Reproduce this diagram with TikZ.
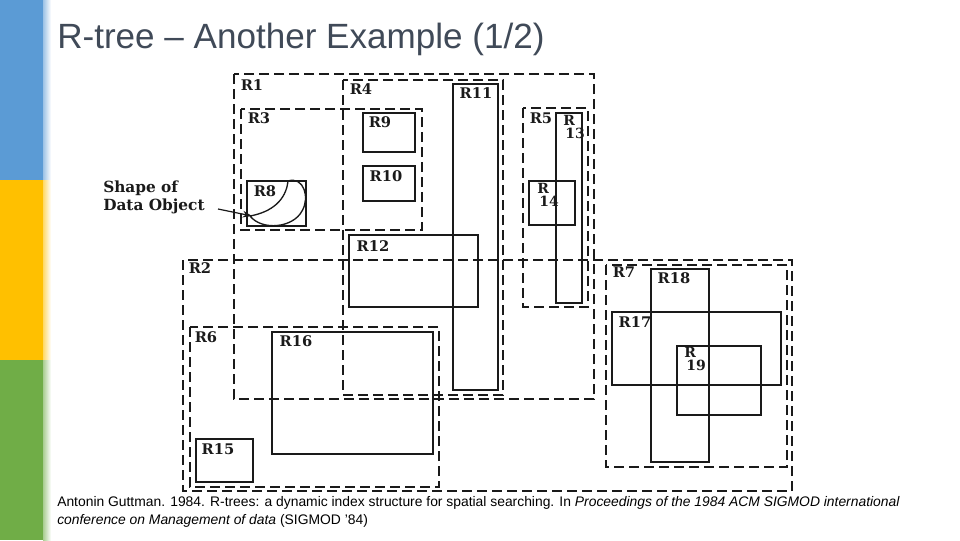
\documentclass[tikz,border=0pt]{standalone}
\usepackage{fontspec}
\setmainfont{Liberation Sans}
\newfontfamily\scanfont{DejaVu Serif}
\usetikzlibrary{arrows.meta}
\definecolor{barblue}{HTML}{5B9BD5}
\definecolor{baryellow}{HTML}{FFC000}
\definecolor{bargreen}{HTML}{70AD47}
\definecolor{titlegray}{HTML}{404A58}
\definecolor{ink}{HTML}{1A1A1A}
\tikzset{
  dbox/.style={draw=ink, line width=1.1pt, dash pattern=on 7.5pt off 3.75pt},
  sbox/.style={draw=ink, line width=0.85pt},
  lbl/.style={inner sep=0pt, font=\scanfont\bfseries\fontsize{11pt}{11pt}\selectfont, text=ink},
  stack/.style={inner sep=0pt, anchor=north west, align=left, font=\scanfont\bfseries\fontsize{10.5pt}{9.8pt}\selectfont, text=ink},
  sublbl/.style={inner sep=0pt, font=\scanfont\bfseries\fontsize{11.5pt}{13.5pt}\selectfont, text=ink, align=left},
}
\begin{document}
\begin{tikzpicture}[x=0.75pt,y=-0.75pt]
\useasboundingbox (0,0) rectangle (960,540);
\fill[white] (0,0) rectangle (960,540);
% sidebar
\fill[barblue] (0,0) rectangle (43,180);
\fill[baryellow] (0,180) rectangle (43,360);
\fill[bargreen] (0,360) rectangle (43,540);
\shade[left color=barblue!60, right color=white] (43,0) rectangle (51,180);
\shade[left color=baryellow!60, right color=white] (43,180) rectangle (51,360);
\shade[left color=bargreen!60, right color=white] (43,360) rectangle (51,540);
% title
\node[anchor=base west, inner sep=0pt, text=titlegray, font=\fontsize{26.3pt}{30pt}\selectfont] (title) at (57,48) {R-tree – Another Example (1/2)};
% dashed (non-leaf) rectangles
\draw[dbox] (234,74) rectangle (594,399);   % R1
\draw[dbox] (343,80) rectangle (503,395);   % R4
\draw[dbox] (241,109) rectangle (422,230);  % R3
\draw[dbox] (523,108) rectangle (588,307);  % R5
\draw[dbox] (183,260) rectangle (792,491);  % R2
\draw[dbox] (190,327) rectangle (439,487);  % R6
\draw[dbox] (606,265) rectangle (787,467);  % R7
% solid (leaf) rectangles
\draw[sbox] (247,181) rectangle (306,226);  % R8
\draw[sbox] (363,113) rectangle (415,152);  % R9
\draw[sbox] (363,166) rectangle (415,201);  % R10
\draw[sbox] (453,84) rectangle (498,390);   % R11
\draw[sbox] (349,235) rectangle (478,307);  % R12
\draw[sbox] (556,113) rectangle (582,303);  % R13
\draw[sbox] (529,181) rectangle (575,225);  % R14
\draw[sbox] (196,439) rectangle (253,482);  % R15
\draw[sbox] (272,332) rectangle (433,454);  % R16
\draw[sbox] (612,312) rectangle (781,385);  % R17
\draw[sbox] (651,269) rectangle (709,462);  % R18
\draw[sbox] (677,346) rectangle (761,415);  % R19
% labels
\node[lbl] (l1) at (252,85) {R1};
\node[lbl] (l2) at (200,268) {R2};
\node[lbl] (l3) at (259,118) {R3};
\node[lbl] (l4) at (361,89) {R4};
\node[lbl] (l5) at (541,118) {R5};
\node[lbl] (l6) at (206,337) {R6};
\node[lbl] (l7) at (624,272) {R7};
\node[lbl] (l8) at (265,191) {R8};
\node[lbl] (l9) at (380,122) {R9};
\node[lbl] (l10) at (386,176) {R10};
\node[lbl] (l11) at (476,93) {R11};
\node[lbl] (l12) at (373,246) {R12};
\node[stack] (l13) at (563,115) {R\\\hspace*{1.5pt}13};
\node[stack] (l14) at (537,183) {R\\\hspace*{1.5pt}14};
\node[lbl] (l15) at (218,449) {R15};
\node[lbl] (l16) at (296,341) {R16};
\node[lbl] (l17) at (635,322) {R17};
\node[lbl] (l18) at (674,278) {R18};
\node[stack] (l19) at (684,347) {R\\\hspace*{1.5pt}19};
% data object
\draw[ink, line width=1pt] (250,216) .. controls (272,212) and (286,200) .. (288,181)
  .. controls (304,176) and (310,198) .. (302,211)
  .. controls (293,228) and (262,231) .. (250,216);
\node[sublbl, anchor=west] (shape) at (103,197) {Shape of\\Data Object};
\coordinate (tip) at (252,216);
\draw[ink, line width=0.9pt, -{Stealth[length=7pt,width=5pt]}] (218,209) -- (tip);
% citation
\node[anchor=north west, inner sep=0pt, align=left, text=black,
      font=\fontsize{10.4pt}{13.5pt}\selectfont] (cite) at (57,496)
  {Antonin Guttman. 1984. R-trees: a dynamic index structure for spatial searching. In \textit{Proceedings of the 1984 ACM SIGMOD international}\\
   \textit{conference on Management of data} (SIGMOD '84)};
\end{tikzpicture}
\end{document}
